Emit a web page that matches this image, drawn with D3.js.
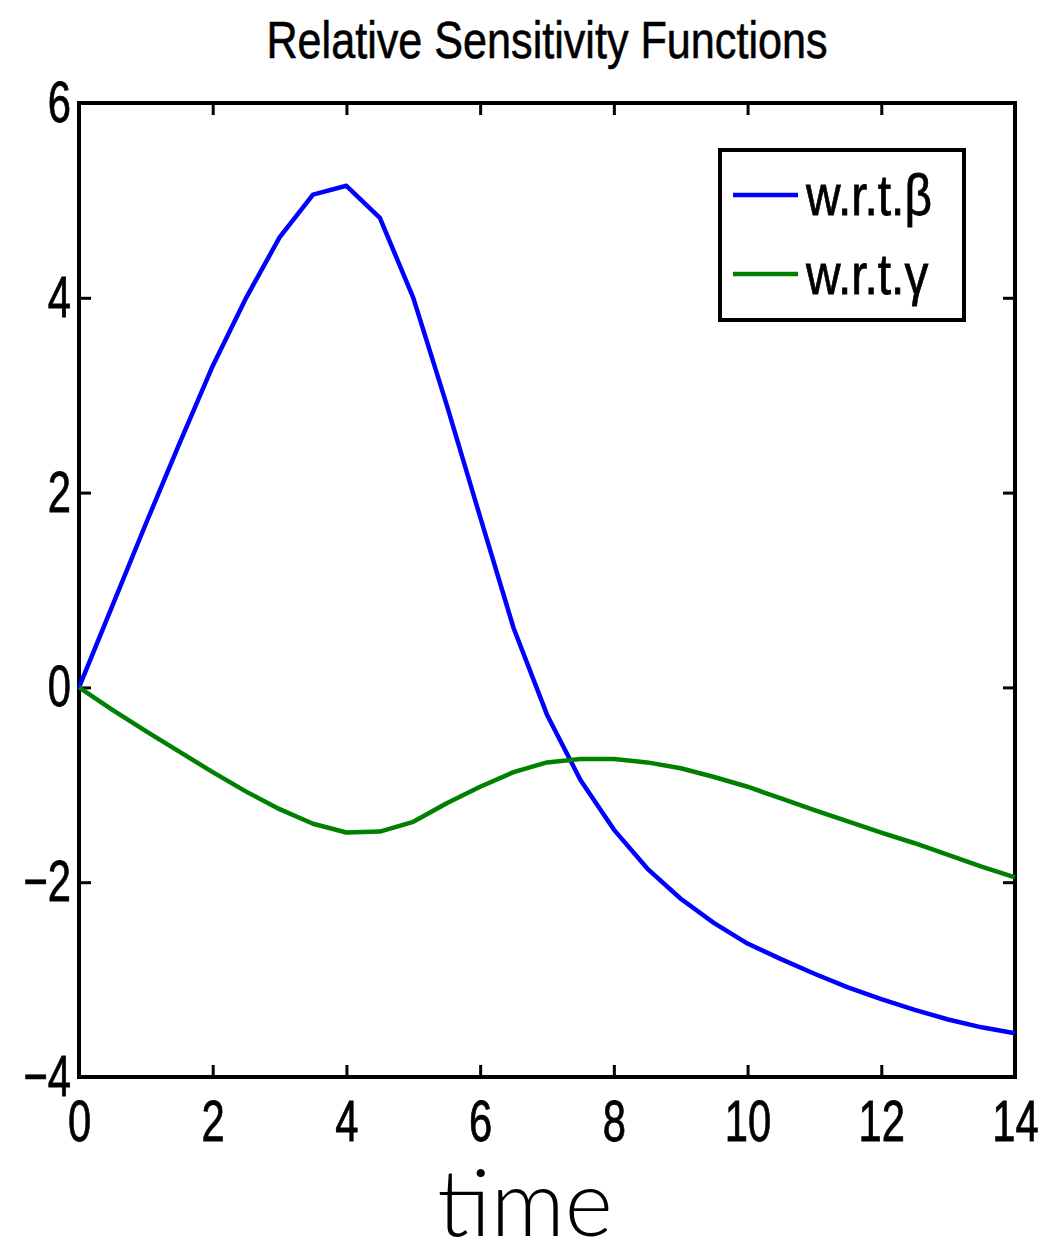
<!DOCTYPE html>
<html>
<head>
<meta charset="utf-8">
<script src="https://cdn.jsdelivr.net/npm/d3@7"></script>
<style>
  body { margin: 0; background: #fff; }
  svg { display: block; }
</style>
</head>
<body>
<svg id="chart" width="1058" height="1254"></svg>
<script>
// Sample times and relative sensitivity values
const time = [0, 0.5, 1, 1.5, 2, 2.5, 3, 3.5, 4, 4.5, 5, 5.5, 6, 6.5, 7,
              7.5, 8, 8.5, 9, 9.5, 10, 10.5, 11, 11.5, 12, 12.5, 13, 13.5, 14];
const betaSens = [0, 0.84, 1.68, 2.5, 3.3, 4.0, 4.62, 5.06, 5.15, 4.82, 4.0, 2.9, 1.75, 0.61, -0.28,
                  -0.95, -1.46, -1.86, -2.17, -2.42, -2.63, -2.79, -2.94, -3.08, -3.2, -3.31, -3.41, -3.49, -3.55];
const gammaSens = [0, -0.23, -0.45, -0.66, -0.87, -1.07, -1.25, -1.4, -1.49, -1.48, -1.38, -1.19, -1.02, -0.87, -0.77,
                   -0.735, -0.735, -0.77, -0.83, -0.92, -1.02, -1.14, -1.26, -1.375, -1.49, -1.6, -1.72, -1.84, -1.95];
const seriesNames = ["w.r.t.\u03B2", "w.r.t.\u03B3"];
const xTicks = [0, 2, 4, 6, 8, 10, 12, 14];
const yTicks = [-4, -2, 0, 2, 4, 6];
const titleText = "Relative Sensitivity Functions";
const xLabel = "time";

const colors = ["#0000ff", "#008000"];
const baseFont = "'Liberation Sans', Arial, sans-serif";

const box = { left: 79, right: 1015, top: 103, bottom: 1077 };
const svg = d3.select("#chart");

const x = d3.scaleLinear().domain([0, 14]).range([box.left, box.right]);
const y = d3.scaleLinear().domain([-4, 6]).range([box.bottom, box.top]);

// Condensed, slightly heavier sans text
function labelStyle(sel, size) {
  sel.attr("fill", "#000")
    .attr("stroke", "#000")
    .attr("stroke-width", 0.8)
    .style("font-family", baseFont)
    .style("font-size", size + "px");
}

// Axes: inward ticks on all four sides, labels on bottom and left
const tickLen = 12;
function styleAxis(g) {
  g.select(".domain").remove();
  g.selectAll(".tick line").attr("stroke", "#000").attr("stroke-width", 3);
  g.selectAll(".tick text")
    .attr("transform", "scale(0.72,1)")
    .call(labelStyle, 58);
}

svg.append("g")
  .attr("transform", `translate(0,${box.bottom})`)
  .call(d3.axisBottom(x).tickValues(xTicks).tickSizeInner(-tickLen).tickSizeOuter(0).tickPadding(23)
    .tickFormat(d3.format("d")))
  .call(styleAxis);

svg.append("g")
  .attr("transform", `translate(0,${box.top})`)
  .call(d3.axisTop(x).tickValues(xTicks).tickSizeInner(-tickLen).tickSizeOuter(0).tickFormat(""))
  .call(styleAxis);

svg.append("g")
  .attr("transform", `translate(${box.left},0)`)
  .call(d3.axisLeft(y).tickValues(yTicks).tickSizeInner(-tickLen).tickSizeOuter(0).tickPadding(11)
    .tickFormat(d => d < 0 ? "\u2212" + Math.abs(d) : String(d)))
  .call(styleAxis);

svg.append("g")
  .attr("transform", `translate(${box.right},0)`)
  .call(d3.axisRight(y).tickValues(yTicks).tickSizeInner(-tickLen).tickSizeOuter(0).tickFormat(""))
  .call(styleAxis);

// Plot frame
svg.append("rect")
  .attr("x", box.left).attr("y", box.top)
  .attr("width", box.right - box.left).attr("height", box.bottom - box.top)
  .attr("fill", "none").attr("stroke", "#000").attr("stroke-width", 4);

// Sensitivity curves
const series = [betaSens, gammaSens];
const line = d3.line().x((d, i) => x(time[i])).y(d => y(d));
svg.append("g").selectAll("path")
  .data(series)
  .join("path")
  .attr("d", line)
  .attr("fill", "none")
  .attr("stroke", (d, i) => colors[i])
  .attr("stroke-width", 4.5)
  .attr("stroke-linejoin", "round");

// Title
svg.append("g")
  .attr("transform", `translate(${(box.left + box.right) / 2},58) scale(0.83,1)`)
  .append("text")
  .attr("text-anchor", "middle")
  .call(labelStyle, 52)
  .attr("stroke-width", 0.6)
  .text(titleText);

// X axis label
svg.append("text")
  .attr("x", 525).attr("y", 1236)
  .attr("text-anchor", "middle")
  .style("font-family", "Lato, 'Open Sans', sans-serif")
  .style("font-weight", 300)
  .style("font-size", "92px")
  .text(xLabel);

// Legend
const legend = svg.append("g");
legend.append("rect")
  .attr("x", 720).attr("y", 150).attr("width", 244).attr("height", 170)
  .attr("fill", "#fff").attr("stroke", "#000").attr("stroke-width", 4);
const rows = legend.selectAll("g.row")
  .data(seriesNames)
  .join("g")
  .attr("class", "row")
  .attr("transform", (d, i) => `translate(0,${195 + i * 79})`);
rows.append("line")
  .attr("x1", 733).attr("x2", 798).attr("y1", 0).attr("y2", 0)
  .attr("stroke", (d, i) => colors[i]).attr("stroke-width", 4.5);
rows.append("g")
  .attr("transform", "translate(806,20) scale(0.84,1)")
  .append("text")
  .call(labelStyle, 57)
  .text(d => d);
</script>
</body>
</html>
